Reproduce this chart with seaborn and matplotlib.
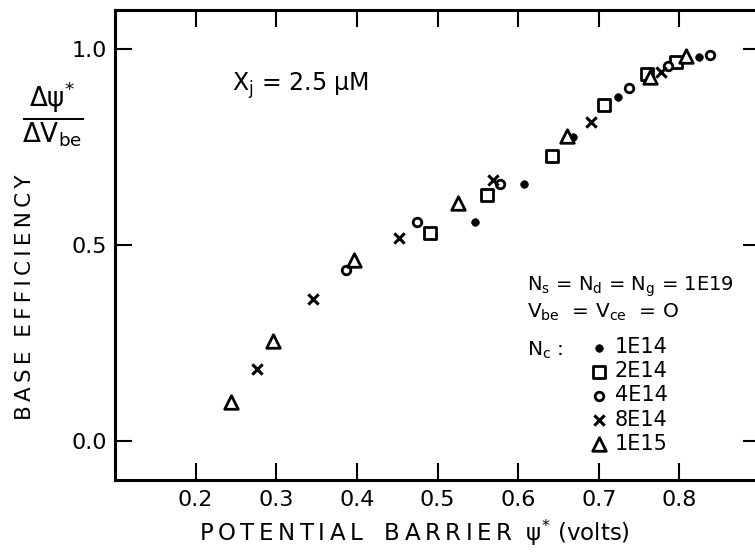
import numpy as np
import pandas as pd
import seaborn as sns
import matplotlib.pyplot as plt

# Collector doping series (N_c)
series_labels = ['1E14', '2E14', '4E14', '8E14', '1E15']

dot_x = [0.546, 0.607, 0.668, 0.724, 0.824]
dot_y = [0.559, 0.656, 0.775, 0.878, 0.981]

square_x = [0.491, 0.561, 0.642, 0.707, 0.760, 0.796]
square_y = [0.530, 0.628, 0.728, 0.858, 0.937, 0.966]

circle_x = [0.387, 0.475, 0.578, 0.738, 0.786, 0.838]
circle_y = [0.436, 0.559, 0.655, 0.900, 0.957, 0.985]

cross_x = [0.276, 0.345, 0.452, 0.569, 0.691, 0.777]
cross_y = [0.184, 0.361, 0.519, 0.667, 0.813, 0.942]

tri_x = [0.244, 0.296, 0.397, 0.525, 0.661, 0.764, 0.808]
tri_y = [0.098, 0.255, 0.461, 0.608, 0.778, 0.928, 0.983]

x_ticks = [0.2, 0.3, 0.4, 0.5, 0.6, 0.7, 0.8]
y_ticks = [0.0, 0.5, 1.0]

sns.set_style('ticks', rc={'text.color': 'black', 'axes.labelcolor': 'black',
                           'xtick.color': 'black', 'ytick.color': 'black',
                           'axes.edgecolor': 'black'})
plt.rcParams['font.family'] = ['DejaVu Sans']
plt.rcParams['mathtext.default'] = 'regular'

W, H = 755, 552
fig = plt.figure(figsize=(W / 100, H / 100), dpi=100)
ax = fig.add_axes([115 / W, 1 - 480 / H, 645 / W, 470 / H])

# marker, size, filled
styles = [
    ('o', 30, True),
    ('s', 70, False),
    ('o', 38, False),
    ('x', 55, True),
    ('^', 95, False),
]
data = [(dot_x, dot_y), (square_x, square_y), (circle_x, circle_y),
        (cross_x, cross_y), (tri_x, tri_y)]

for (xs, ys), lab, (mk, sz, filled) in zip(data, series_labels, styles):
    df = pd.DataFrame({'psi': xs, 'eff': ys})
    if mk == 'x':
        sns.scatterplot(data=df, x='psi', y='eff', marker='x', s=sz,
                        color='black', linewidth=2.2, label=lab, ax=ax, zorder=3)
    elif filled:
        sns.scatterplot(data=df, x='psi', y='eff', marker=mk, s=sz,
                        color='black', edgecolor='black', linewidth=0.5,
                        label=lab, ax=ax, zorder=3)
    else:
        sns.scatterplot(data=df, x='psi', y='eff', marker=mk, s=sz,
                        facecolor='white', edgecolor='black', linewidth=2.0,
                        label=lab, ax=ax, zorder=3)

ax.set_xlim(0.1, 0.9)
ax.set_ylim(-0.1, 1.1)
ax.set_xticks(x_ticks)
ax.set_xticklabels([f'{v:.1f}' for v in x_ticks])
ax.set_yticks(y_ticks)
ax.set_yticklabels([f'{v:.1f}' for v in y_ticks])
ax.tick_params(direction='in', length=12, width=1.5, labelsize=16,
               top=True, right=True, colors='black')
ax.tick_params(axis='x', pad=7)
ax.tick_params(axis='y', pad=6)
for sp in ax.spines.values():
    sp.set_visible(True)
    sp.set_linewidth(2.2)
    sp.set_color('black')

ax.set_xlabel('')
ax.set_ylabel('')

def px(x, y):
    return x / W, 1 - y / H

def spaced(s, gap='   '):
    # thin spaces between letters, like the hand lettering
    return gap.join('\u2009'.join(w) for w in s.split(' '))

fig.text(*px(414, 533), spaced('POTENTIAL BARRIER') + r'  ψ$^{*}$ (volts)',
         ha='center', va='center', fontsize=16.5)
fig.text(*px(25, 297), spaced('BASE EFFICIENCY', gap='  '), rotation=90,
         ha='center', va='center', fontsize=15.5)
fig.text(*px(53, 115), r'$\frac{\Delta\psi^{*}}{\Delta V_{be}}$', ha='center',
         va='center', fontsize=27)

fig.text(*px(232, 86), r'X$_j$ = 2.5 $\mu$M', ha='left', va='center', fontsize=17)

fig.text(*px(527, 287), r'N$_s$ = N$_d$ = N$_g$ = 1E19', ha='left', va='center',
         fontsize=14)
fig.text(*px(527, 312), r'V$_{be}$  = V$_{ce}$  = O', ha='left', va='center',
         fontsize=14.5)
fig.text(*px(527, 350), r'N$_c$ :', ha='left', va='center', fontsize=14.5)

ax.legend(loc='upper left', bbox_to_anchor=px(591, 337),
          bbox_transform=fig.transFigure, frameon=False, fontsize=15,
          handlelength=0.8, handletextpad=0.35, labelspacing=0.2,
          borderpad=0, borderaxespad=0)

fig.savefig('out.png', dpi=100)
